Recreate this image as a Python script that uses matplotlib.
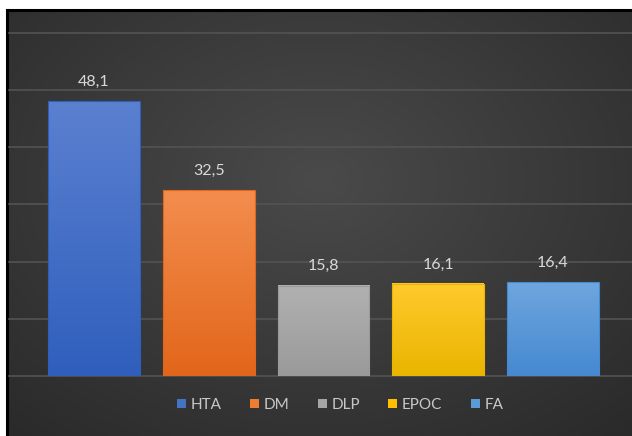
import numpy as np
import matplotlib
matplotlib.use('Agg')
import matplotlib.pyplot as plt
from matplotlib.colors import LinearSegmentedColormap
from matplotlib.patches import Rectangle

categories = ['HTA', 'DM', 'DLP', 'EPOC', 'FA']
values = [48.1, 32.5, 15.8, 16.1, 16.4]
labels = ['48,1', '32,5', '15,8', '16,1', '16,4']
top_colors = ['#5b80d0', '#f38d4e', '#b1b1b1', '#ffca2c', '#6fa6df']
bottom_colors = ['#2f5fbd', '#e2661a', '#9a9a9a', '#e9b500', '#4589d0']
mid_colors = ['#4472c4', '#ed7d31', '#a5a5a5', '#ffc000', '#5b9bd5']

W, H = 632, 436
fig = plt.figure(figsize=(W / 100, H / 100), dpi=100)
fig.patch.set_facecolor('white')

# dark background panel with radial gradient
bg = fig.add_axes([7 / W, 0, (W - 7) / W, (H - 10) / H])
yy, xx = np.mgrid[0:1:300j, 0:1:400j]
r = np.sqrt(((xx - 0.5) / 0.75) ** 2 + ((yy - 0.4) / 0.8) ** 2)
shade = np.clip(1 - r, 0, 1)
bg_cmap = LinearSegmentedColormap.from_list('bg', ['#2a2a2a', '#4a4a4a'])
bg.imshow(shade, cmap=bg_cmap, aspect='auto', extent=[0, 1, 0, 1],
          origin='upper', vmin=0, vmax=1)
bg.set_xticks([])
bg.set_yticks([])
for side, sp in bg.spines.items():
    sp.set_color('black')
    sp.set_linewidth(2.2)
bg.spines['right'].set_visible(False)
bg.spines['bottom'].set_visible(False)

# main axes
ax = fig.add_axes([9 / W, (H - 376) / H, (W - 9) / W, 343 / H])
ax.patch.set_alpha(0)
x = np.arange(len(categories))
for v in range(0, 61, 10):
    ax.axhline(v, color='#535353', lw=1.2, zorder=0, clip_on=False)
for sp in ax.spines.values():
    sp.set_visible(False)
ax.set_xticks([])
ax.set_yticks([])

bars = ax.bar(x, values, width=0.8, color=mid_colors, edgecolor='none', zorder=2)
grad = np.linspace(0, 1, 256).reshape(-1, 1)
for b, c1, c2, lab in zip(bars, top_colors, bottom_colors, labels):
    cmap = LinearSegmentedColormap.from_list('g', [c2, c1])
    x0, y0 = b.get_x(), b.get_y()
    w, h = b.get_width(), b.get_height()
    ax.imshow(grad, cmap=cmap, aspect='auto', origin='lower',
              extent=[x0, x0 + w, y0, y0 + h], zorder=3)
    ax.add_patch(Rectangle((x0, y0), w, h, fill=False, edgecolor=c2,
                           lw=0.8, zorder=4))
    ax.annotate(lab, (x0 + w / 2, y0 + h), xytext=(0, 9),
                textcoords='offset points', ha='center', va='bottom',
                color='#d9d9d9', fontsize=11.5, family=['Lato', 'DejaVu Sans'])
ax.set_xlim(-0.741, 4.69)
ax.set_ylim(0, 60)

handles = [Rectangle((0, 0), 1, 1, facecolor=c) for c in mid_colors]
leg = fig.legend(handles, categories, loc='center', ncol=5,
                 bbox_to_anchor=(340 / W, 1 - 405 / H), frameon=False,
                 handlelength=0.6, handleheight=0.6, handletextpad=0.3,
                 columnspacing=1.85,
                 prop={'family': ['Lato', 'DejaVu Sans'], 'size': 11})
for t in leg.get_texts():
    t.set_color('#c8c8c8')

fig.savefig('out.png', dpi=100, facecolor='white')
